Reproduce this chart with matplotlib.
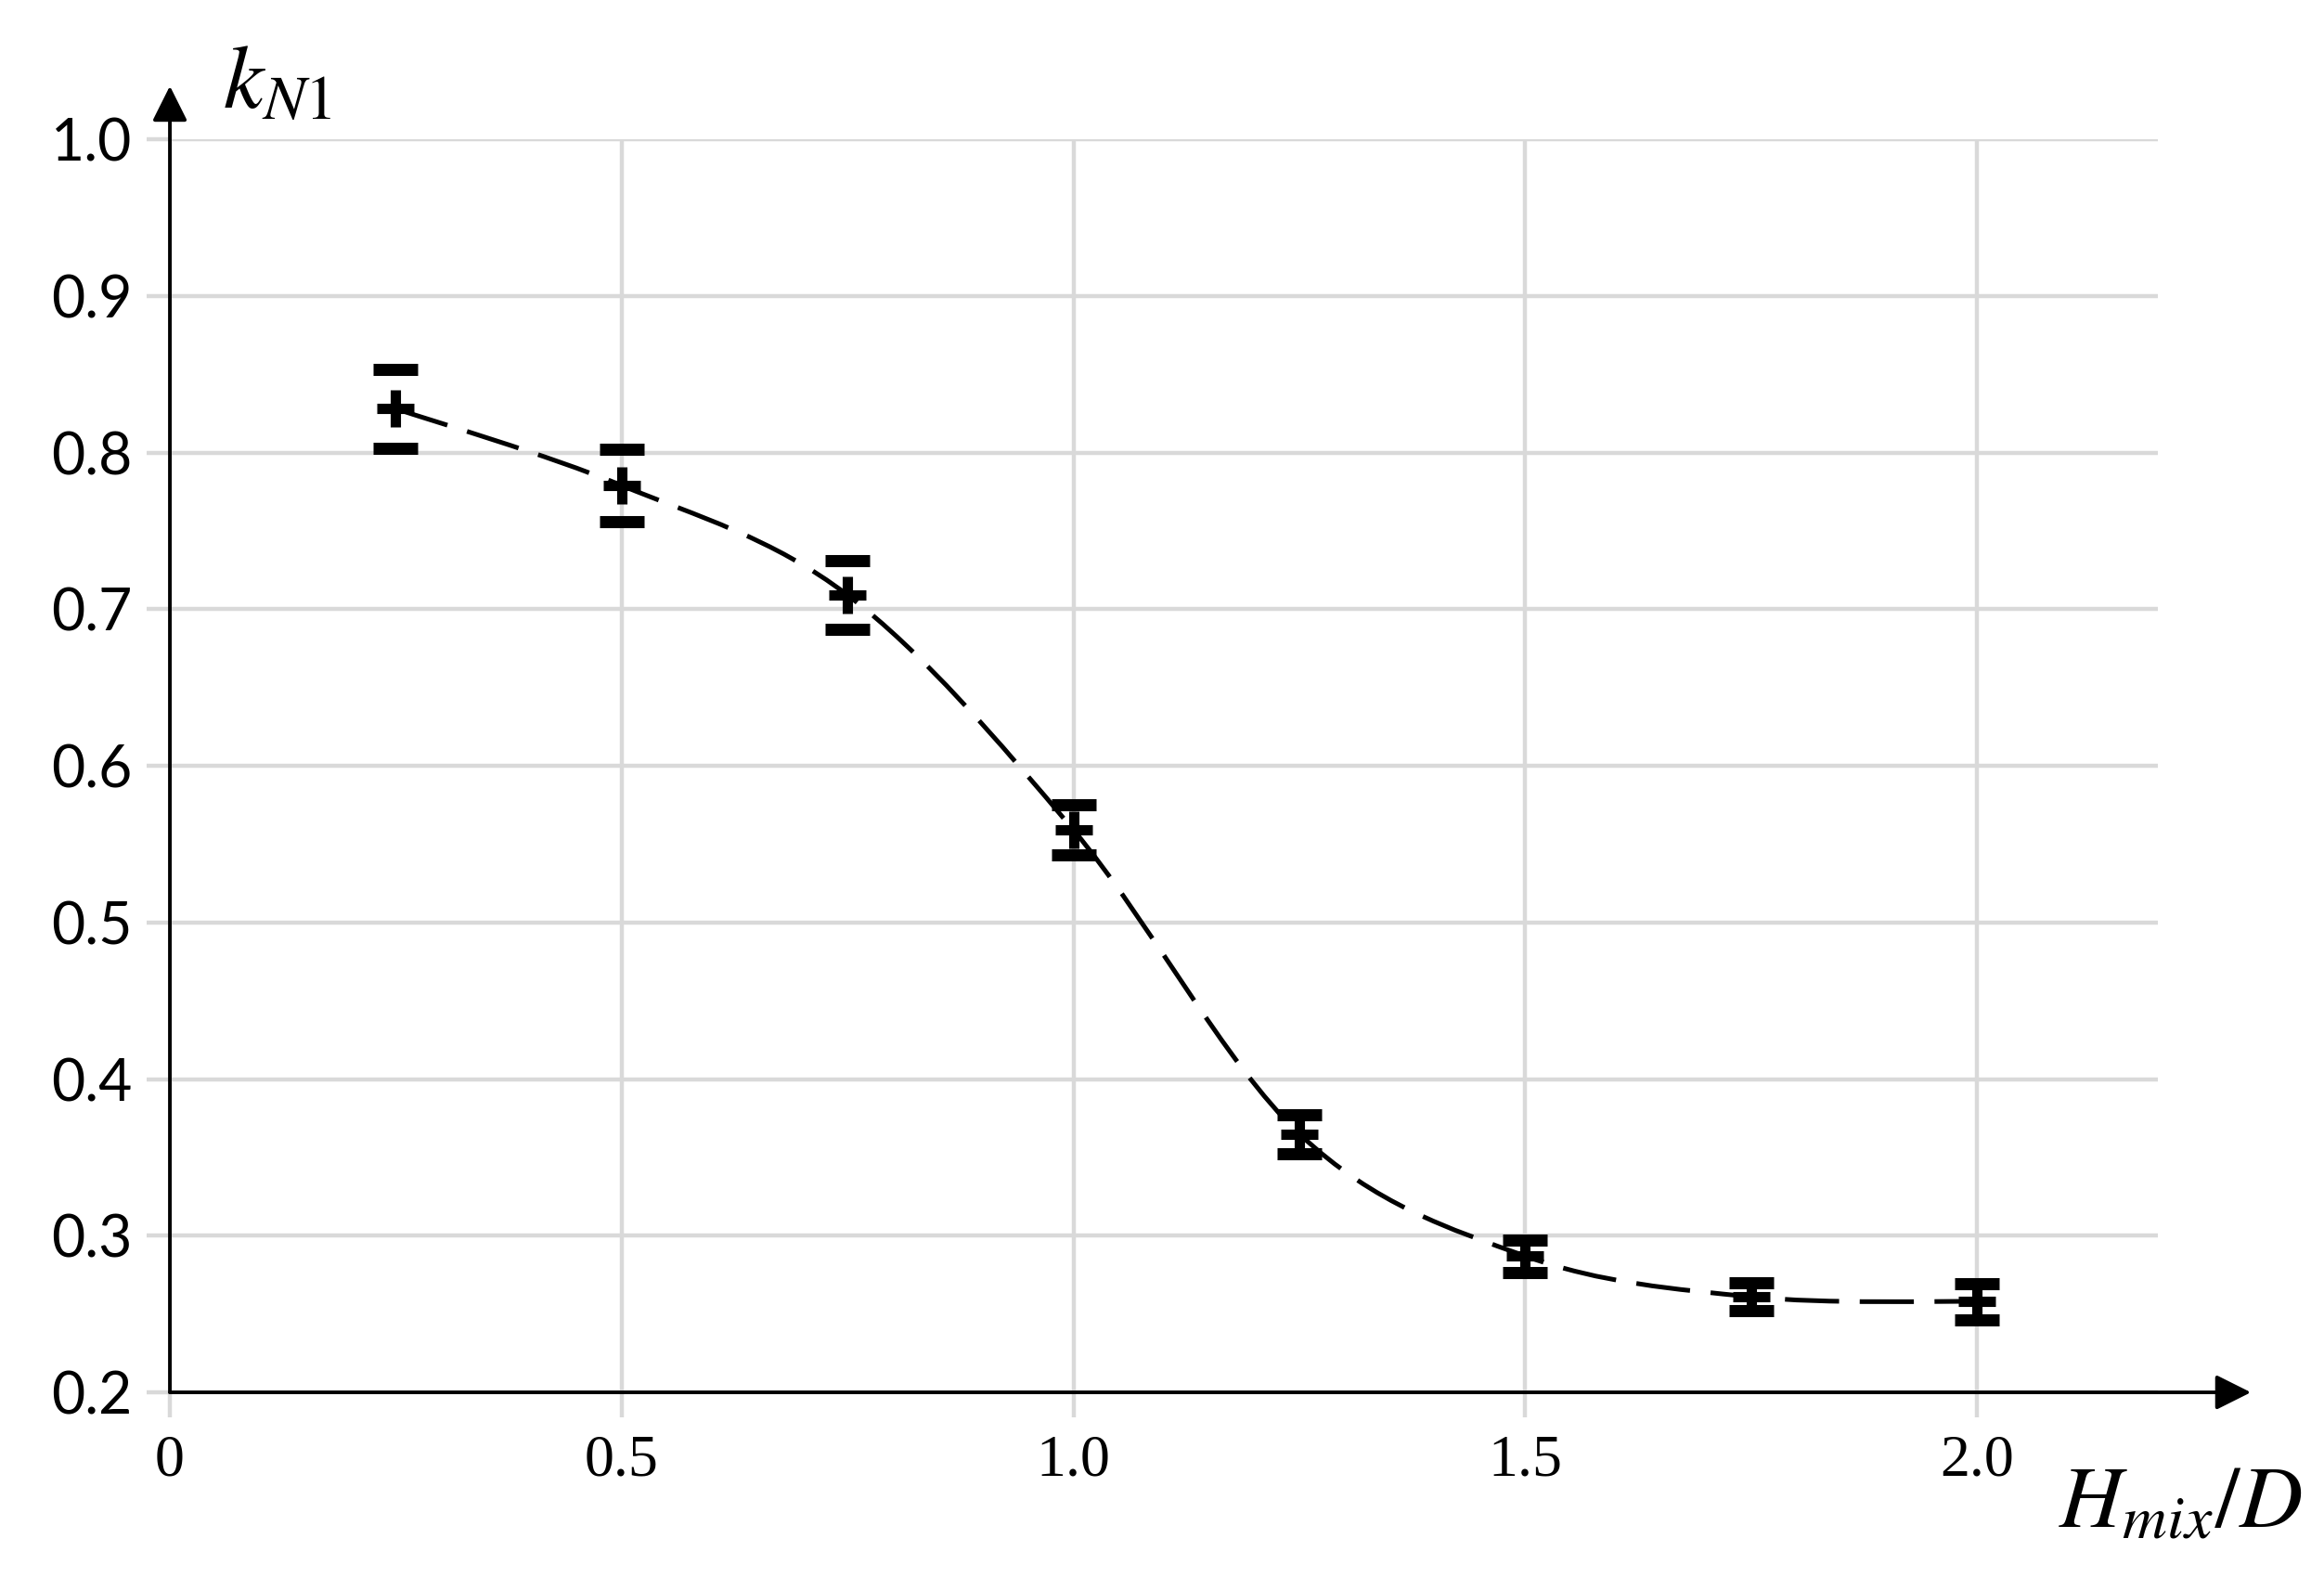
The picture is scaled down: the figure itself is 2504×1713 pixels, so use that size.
import matplotlib
matplotlib.use("Agg")
import matplotlib.pyplot as plt
from matplotlib.path import Path
from matplotlib.patches import PathPatch

# 데이터
h_mix_d = [0.25, 0.5, 0.75, 1.0, 1.25, 1.5, 1.75, 2.0]
k_n1 = [0.828, 0.779, 0.709, 0.559, 0.365, 0.287, 0.261, 0.258]
k_err = [0.025, 0.023, 0.022, 0.016, 0.0125, 0.0105, 0.009, 0.0115]

x_ticks = [0, 0.5, 1.0, 1.5, 2.0]
x_tick_labels = ["0", "0.5", "1.0", "1.5", "2.0"]
y_ticks = [0.2, 0.3, 0.4, 0.5, 0.6, 0.7, 0.8, 0.9, 1.0]
y_tick_labels = ["0.2", "0.3", "0.4", "0.5", "0.6", "0.7", "0.8", "0.9", "1.0"]

GRID = "#d9d9d9"
plt.rcParams["mathtext.fontset"] = "stix"
plt.rcParams["lines.scale_dashes"] = False


def smooth_path(xs, ys):
    """Catmull-Rom 방식의 베지어 곡선 경로 (엑셀 smoothed line 처럼)"""
    pts = list(zip(xs, ys))
    pts_ext = [pts[0]] + pts + [pts[-1]]
    verts = [pts[0]]
    codes = [Path.MOVETO]
    for i in range(1, len(pts_ext) - 2):
        p0, p1, p2, p3 = pts_ext[i - 1], pts_ext[i], pts_ext[i + 1], pts_ext[i + 2]
        c1 = (p1[0] + (p2[0] - p0[0]) / 6, p1[1] + (p2[1] - p0[1]) / 6)
        c2 = (p2[0] - (p3[0] - p1[0]) / 6, p2[1] - (p3[1] - p1[1]) / 6)
        verts += [c1, c2, p2]
        codes += [Path.CURVE4] * 3
    return Path(verts, codes)


fig = plt.figure(figsize=(25.04, 17.13), dpi=100)
ax = fig.add_axes([0.0731, 0.1243, 0.8554, 0.7881])
ax.set_xlim(0, 2.2)
ax.set_ylim(0.2, 1.0)

# 격자
ax.set_axisbelow(True)
ax.grid(True, color=GRID, lw=3.2)
for s in ax.spines.values():
    s.set_visible(False)

ax.set_xticks(x_ticks)
ax.set_xticklabels(x_tick_labels, family="Liberation Serif", fontsize=46)
ax.set_yticks(y_ticks)
ax.set_yticklabels(y_tick_labels, family="Lato", fontsize=45)
ax.tick_params(axis="x", length=19.5, width=3.2, color=GRID, pad=13)
ax.tick_params(axis="y", length=18, width=3.2, color=GRID, pad=11)

# 점선 곡선
curve = PathPatch(smooth_path(h_mix_d, k_n1), fill=False, edgecolor="black",
                  lw=3.6, linestyle=(0, (42, 16)), zorder=3)
ax.add_patch(curve)

# 오차 막대 + 중심 마커
ax.errorbar(h_mix_d, k_n1, yerr=k_err, fmt="none", ecolor="black",
            elinewidth=0, capsize=17, capthick=9.4, zorder=4)
ax.plot(h_mix_d, k_n1, linestyle="none", marker="+", color="black",
        markersize=29, markeredgewidth=8, zorder=5)

# 화살표 축
arrow = dict(arrowstyle="-|>,head_length=0.4,head_width=0.2", color="black",
             lw=2.8, mutation_scale=58, shrinkA=0, shrinkB=0)
ax.annotate("", xy=(2.303, 0.2), xytext=(0, 0.2), arrowprops=arrow,
            annotation_clip=False, zorder=6)
ax.annotate("", xy=(0, 1.034), xytext=(0, 0.2), arrowprops=arrow,
            annotation_clip=False, zorder=6)

# 축 이름
fig.text(240 / 2504, 1 - 116 / 1713, r"$k_{N1}$", fontsize=70,
         ha="left", va="baseline")
fig.text(2218 / 2504, 1 - 1645 / 1713, r"$H_{mix}/D$", fontsize=68,
         ha="left", va="baseline")

fig.savefig("out.png", dpi=100)
